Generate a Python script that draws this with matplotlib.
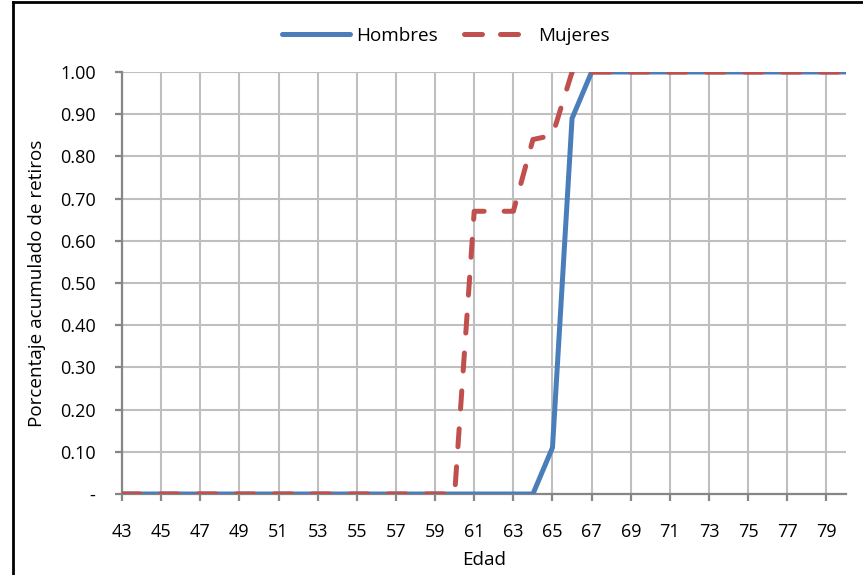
import matplotlib
matplotlib.use("Agg")
import matplotlib.pyplot as plt
from matplotlib.lines import Line2D

# data
edades = list(range(43, 81))
hombres = [0, 0, 0, 0, 0, 0, 0, 0, 0, 0, 0, 0, 0, 0, 0, 0, 0, 0, 0, 0, 0, 0,
           0.11, 0.89,
           1, 1, 1, 1, 1, 1, 1, 1, 1, 1, 1, 1, 1, 1]
mujeres = [0, 0, 0, 0, 0, 0, 0, 0, 0, 0, 0, 0, 0, 0, 0, 0, 0, 0,
           0.67, 0.67, 0.67, 0.84, 0.85,
           1, 1, 1, 1, 1, 1, 1, 1, 1, 1, 1, 1, 1, 1, 1]
x_ticks = edades[::2]
y_ticks = [0, 0.1, 0.2, 0.3, 0.4, 0.5, 0.6, 0.7, 0.8, 0.9, 1.0]
y_labels = ["-"] + [f"{v:.2f}" for v in y_ticks[1:]]

BLUE = "#4A7EBB"
RED = "#C0504D"
GRID = "#BFBFBF"
AXIS = "#868686"
LW = 3.6
FS = 13
FS_TXT = 13.6

plt.rcParams["font.family"] = ["Open Sans", "DejaVu Sans"]

fig = plt.figure(figsize=(8.63, 5.75), dpi=100)
ax = fig.add_axes([122 / 863, 1 - 494 / 575, (846 - 122) / 863, (494 - 72) / 575])

ax.plot(edades, hombres, color=BLUE, lw=LW, solid_capstyle="butt",
        solid_joinstyle="round", label="Hombres", zorder=3)
ax.plot(edades, mujeres, color=RED, lw=LW, dashes=(3.6, 4.0),
        dash_capstyle="round", label="Mujeres", zorder=4)

ax.set_xlim(43, 80)
ax.set_ylim(0, 1.0)
ax.set_xticks(x_ticks)
ax.set_xticklabels([str(v) for v in x_ticks])
ax.set_yticks(y_ticks)
ax.set_yticklabels(y_labels)

ax.grid(True, color=GRID, lw=1.5, zorder=0)
ax.set_axisbelow(True)
for side in ["top", "right"]:
    ax.spines[side].set_visible(False)
for side in ["left", "bottom"]:
    ax.spines[side].set_color(AXIS)
    ax.spines[side].set_linewidth(1.6)
ax.tick_params(axis="both", colors=AXIS, length=5, width=1.6, labelsize=FS,
               labelcolor="black")
ax.tick_params(axis="y", pad=14)
ax.tick_params(axis="x", pad=16)

ax.set_xlabel("Edad", fontsize=FS_TXT, labelpad=7)
ax.set_ylabel("Porcentaje acumulado de retiros", fontsize=FS_TXT, labelpad=10)

handles = [Line2D([], [], color=BLUE, lw=LW, solid_capstyle="round"),
           Line2D([], [], color=RED, lw=LW, dashes=(3.6, 3.6), dash_capstyle="round")]
fig.legend(handles, ["Hombres", "Mujeres"], loc="center", ncol=2,
           bbox_to_anchor=(446 / 863, 1 - 36 / 575), frameon=False, fontsize=FS_TXT,
           handlelength=3.6, columnspacing=1.4, handletextpad=0.3)

# chart area border (left and top only visible)
fig.add_artist(Line2D([13 / 863, 13 / 863], [0, 1 - 1.5 / 575], color="black",
                      lw=2, transform=fig.transFigure))
fig.add_artist(Line2D([13 / 863, 1], [1 - 1.5 / 575, 1 - 1.5 / 575], color="black",
                      lw=2, transform=fig.transFigure))

fig.savefig("out.png", dpi=100)
